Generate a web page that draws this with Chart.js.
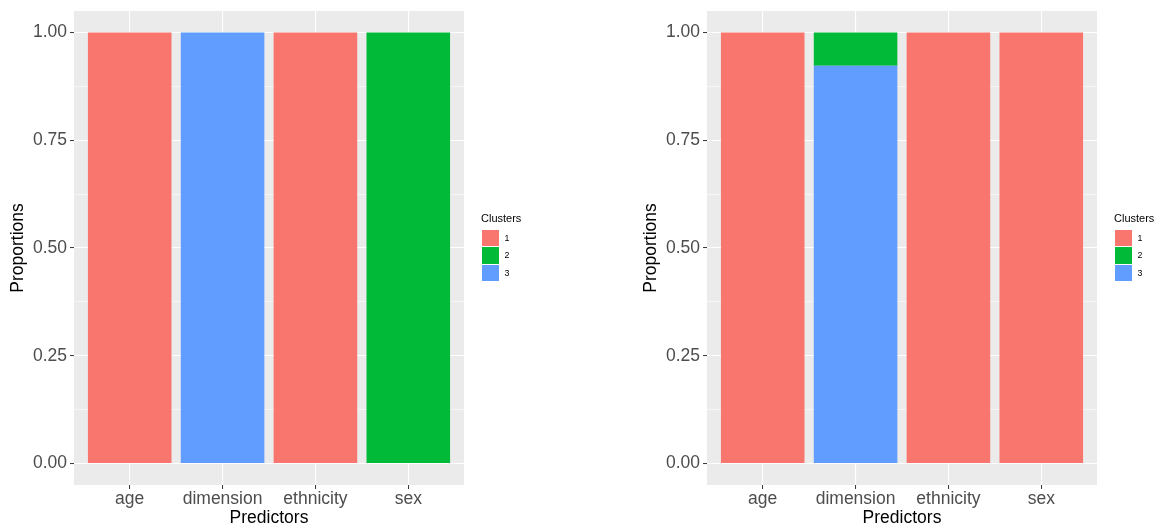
<!DOCTYPE html>
<html>
<head>
<meta charset="utf-8">
<script src="https://cdn.jsdelivr.net/npm/chart.js@4"></script>
<style>
  html, body { margin: 0; padding: 0; background: #fff; }
  body { width: 1156px; height: 527px; position: relative; overflow: hidden;
         font-family: "Liberation Sans", Arial, Helvetica, sans-serif; }
  .panel { position: absolute; top: 0; width: 578px; height: 527px; }
  .legend { position: absolute; color: #000; }
  .legend .title { font-size: 11px; line-height: 13px; margin-bottom: 4px; }
  .legend .row { display: flex; align-items: center; height: 17.5px; }
  .legend .key { width: 16.5px; height: 16.5px; border: 0.5px solid #fff; box-sizing: content-box; }
  .legend .lab { font-size: 8.8px; margin-left: 5px; color: #000; }
</style>
</head>
<body>
<div class="panel" style="left:0"><canvas id="left" width="578" height="527"></canvas></div>
<div class="panel" style="left:578px"><canvas id="right" width="578" height="527"></canvas></div>
<div class="legend" id="legendLeft" style="left:481px; top:212px"></div>
<div class="legend" id="legendRight" style="left:1114px; top:212px"></div>
<script>
// Predictors on the x axis
const categories = ['age', 'dimension', 'ethnicity', 'sex'];

// Cluster names and their fill colours
const clusterNames = ['1', '2', '3'];
const clusterColors = ['#F8766D', '#00BA38', '#619CFF'];

// Left panel: proportion of each predictor assigned to each cluster
const leftCluster1 = [1, 0, 1, 0];
const leftCluster2 = [0, 0, 0, 1];
const leftCluster3 = [0, 1, 0, 0];

// Right panel
const rightCluster1 = [1, 0, 1, 1];
const rightCluster2 = [0, 0.077, 0, 0];
const rightCluster3 = [0, 0.923, 0, 0];

// Y tick labels (major) and minor grid positions
const yMajorTicks = [0, 0.25, 0.5, 0.75, 1];
const yMinorTicks = [0.125, 0.375, 0.625, 0.875];

const tickFont = { family: '"Liberation Sans", Arial, Helvetica, sans-serif', size: 17.5 };
const titleFontCss = '17.5px "Liberation Sans", Arial, Helvetica, sans-serif';

// Grey panel background behind the plotting area
const panelBackground = {
  id: 'panelBackground',
  beforeDraw(chart) {
    const { ctx, chartArea: a } = chart;
    ctx.save();
    ctx.fillStyle = '#EBEBEB';
    ctx.fillRect(a.left, a.top, a.right - a.left, a.bottom - a.top);
    ctx.restore();
  }
};

// Axis titles placed like ggplot's
const axisTitles = {
  id: 'axisTitles',
  afterDraw(chart) {
    const { ctx, chartArea: a } = chart;
    ctx.save();
    ctx.fillStyle = '#000';
    ctx.font = titleFontCss;
    ctx.textAlign = 'center';
    ctx.textBaseline = 'middle';
    ctx.fillText('Predictors', (a.left + a.right) / 2, 518);
    ctx.translate(a.left - 55.5, (a.top + a.bottom) / 2);
    ctx.rotate(-Math.PI / 2);
    ctx.fillText('Proportions', 0, 0);
    ctx.restore();
  }
};

function makeDatasets(c1, c2, c3) {
  // Stacked bottom-up: cluster 3, cluster 2, cluster 1
  const series = [[c3, 2], [c2, 1], [c1, 0]];
  return series.map(([vals, i]) => ({
    label: clusterNames[i],
    data: vals.map((v, k) => ({ x: k, y: v })),
    backgroundColor: clusterColors[i],
    borderWidth: 0,
    barPercentage: 0.9,
    categoryPercentage: 1.0
  }));
}

function makeChart(id, plotLeft, plotRight, c1, c2, c3) {
  const W = 578, plotTop = 11, plotBottom = 485;
  return new Chart(document.getElementById(id), {
    type: 'bar',
    data: { datasets: makeDatasets(c1, c2, c3) },
    options: {
      responsive: false,
      animation: false,
      events: [],
      layout: { padding: { left: plotLeft - 74, right: W - plotRight, top: plotTop, bottom: 0 } },
      plugins: { legend: { display: false }, tooltip: { enabled: false } },
      scales: {
        x: {
          type: 'linear',
          stacked: true,
          offset: false,
          min: -0.6,
          max: categories.length - 1 + 0.6,
          afterBuildTicks(scale) { scale.ticks = categories.map((_, i) => ({ value: i })); },
          afterFit(scale) {
            scale.height = 527 - plotBottom;
            scale.paddingLeft = 0;
            scale.paddingRight = 0;
          },
          ticks: {
            font: tickFont,
            color: '#4D4D4D',
            padding: 0,
            maxRotation: 0,
            autoSkip: false,
            callback: (v) => categories[v]
          },
          grid: {
            offset: false,
            color: '#FFFFFF',
            lineWidth: 1.1,
            tickColor: '#333333',
            tickLength: 4,
            tickWidth: 1
          },
          border: { display: false }
        },
        y: {
          type: 'linear',
          stacked: true,
          min: -0.05,
          max: 1.05,
          afterBuildTicks(scale) {
            scale.ticks = [...yMajorTicks, ...yMinorTicks].sort((a, b) => a - b).map(v => ({ value: v }));
          },
          afterFit(scale) {
            scale.width = 74;
            scale.paddingTop = 0;
            scale.paddingBottom = 0;
          },
          ticks: {
            font: tickFont,
            color: '#4D4D4D',
            padding: 3,
            autoSkip: false,
            callback: (v) => yMajorTicks.includes(v) ? v.toFixed(2) : ''
          },
          grid: {
            color: '#FFFFFF',
            lineWidth: (ctx) => yMajorTicks.includes(ctx.tick && ctx.tick.value) ? 1.1 : 0.55,
            tickColor: (ctx) => yMajorTicks.includes(ctx.tick && ctx.tick.value) ? '#333333' : 'rgba(0,0,0,0)',
            tickLength: 4,
            tickWidth: 1
          },
          border: { display: false }
        }
      }
    },
    plugins: [panelBackground, axisTitles]
  });
}

makeChart('left', 74, 464, leftCluster1, leftCluster2, leftCluster3);
makeChart('right', 707 - 578, 1097 - 578, rightCluster1, rightCluster2, rightCluster3);

// Legends
function buildLegend(el) {
  let html = '<div class="title">Clusters</div>';
  clusterNames.forEach((n, i) => {
    html += '<div class="row"><div class="key" style="background:' + clusterColors[i] + '"></div><span class="lab">' + n + '</span></div>';
  });
  el.innerHTML = html;
}
buildLegend(document.getElementById('legendLeft'));
buildLegend(document.getElementById('legendRight'));
</script>
</body>
</html>
